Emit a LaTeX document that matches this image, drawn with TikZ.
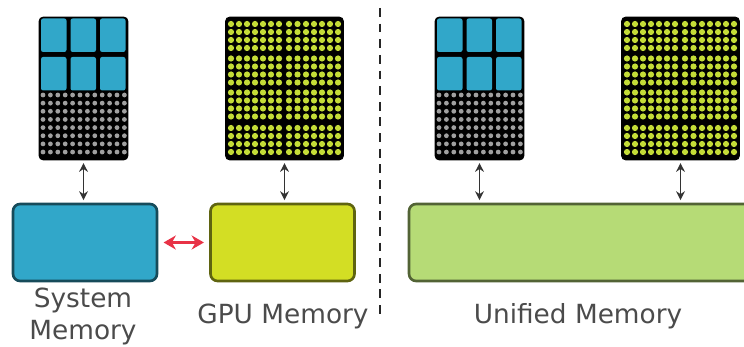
\documentclass[tikz,border=0pt]{standalone}
\usepackage{fontspec}
\setmainfont{DejaVu Sans}
\usetikzlibrary{arrows.meta}
\definecolor{cpublue}{RGB}{49,167,201}
\definecolor{gpuyellow}{RGB}{211,222,36}
\definecolor{unigreen}{RGB}{182,219,118}
\definecolor{dotgray}{RGB}{160,160,160}
\definecolor{dotyellow}{RGB}{196,220,55}
\definecolor{labelgray}{RGB}{75,75,75}
\definecolor{linkred}{RGB}{232,50,70}
\tikzset{
  card/.style={draw=black, fill=black, rounded corners=2.5pt, line width=0.5pt, inner sep=0pt, minimum height=2.86cm},
  chip/.style={fill=cpublue, rounded corners=1.2pt},
  membox/.style={draw=#1!45!black, rounded corners=4pt, line width=1.5pt, inner sep=0pt, minimum height=1.54cm, fill=#1},
  busarrow/.style={{Stealth[length=5pt,width=5pt]}-{Stealth[length=5pt,width=5pt]}, line width=1pt, black!80, shorten >=1.5pt, shorten <=1.5pt},
  redarrow/.style={{Stealth[length=7pt,width=8pt]}-{Stealth[length=7pt,width=8pt]}, line width=1.4pt, linkred, shorten >=3pt, shorten <=3pt},
  memlabel/.style={text=labelgray, font=\fontsize{15}{18}\selectfont, inner sep=0pt}
}
% cpu card contents, #1 is the shift in pixels
\newcommand{\cpucard}[1]{
\foreach \x in {41,70.5,100}
  \foreach \y in {18.5,57}
    \fill[chip, xshift=#1*0.02cm] (\x,\y) rectangle ++(25.5,33.5);
\foreach \x in {0,...,11}
  \foreach \y in {0,...,7}
    \fill[dotgray, xshift=#1*0.02cm] (43+\x*7.4,95+\y*8.15) circle (2.4);
}
% gpu card contents
\newcommand{\gpucard}[1]{
\foreach \x in {231,239,247,255,263,271,279,289,297.5,306,314,322,330,338}
  \foreach \y in {24,32,40,48,58.5,66.5,74.5,82.5,92.5,100.5,108.5,116.5,128,136,144,152}
    \fill[dotyellow, xshift=#1*0.02cm] (\x,\y) circle (3.1);
}

\begin{document}
\begin{tikzpicture}[x=0.02cm,y=-0.02cm]
\useasboundingbox (0,0) rectangle (744,347);

\node[card, minimum width=1.78cm] (cpua) at (83.5,88.5) {};
\node[card, minimum width=2.36cm] (gpua) at (284.5,88.5) {};
\node[card, minimum width=1.78cm] (cpub) at (479.5,88.5) {};
\node[card, minimum width=2.36cm] (gpub) at (680.5,88.5) {};

\cpucard{0}
\gpucard{0}
\cpucard{396}
\gpucard{396}

\node[membox=cpublue, minimum width=2.88cm] (sysmem) at (85,242.5) {};
\node[membox=gpuyellow, minimum width=2.88cm] (gpumem) at (282.5,242.5) {};
\node[membox=unigreen, minimum width=6.9cm] (unimem) at (581.5,242.5) {};

\draw[busarrow] (cpua.south) -- (cpua.south |- sysmem.north);
\draw[busarrow] (gpua.south) -- (gpua.south |- gpumem.north);
\draw[busarrow] (cpub.south) -- (cpub.south |- unimem.north);
\draw[busarrow] (gpub.south) -- (gpub.south |- unimem.north);
\draw[redarrow] (sysmem) -- (gpumem);

\coordinate (divtop) at (380,8);
\coordinate (divbot) at (380,318);
\draw[line width=1.5pt, black!85, dash pattern=on 5pt off 3.9pt] (divtop) -- (divbot);

\node[memlabel] (syslbl) at (83,300) {System};
\node[memlabel] (syslblb) at (83,333) {Memory};
\node[memlabel] (gpulbl) at (283,316) {GPU Memory};
\node[memlabel] (unilbl) at (578,316) {Unified Memory};
\end{tikzpicture}
\end{document}
